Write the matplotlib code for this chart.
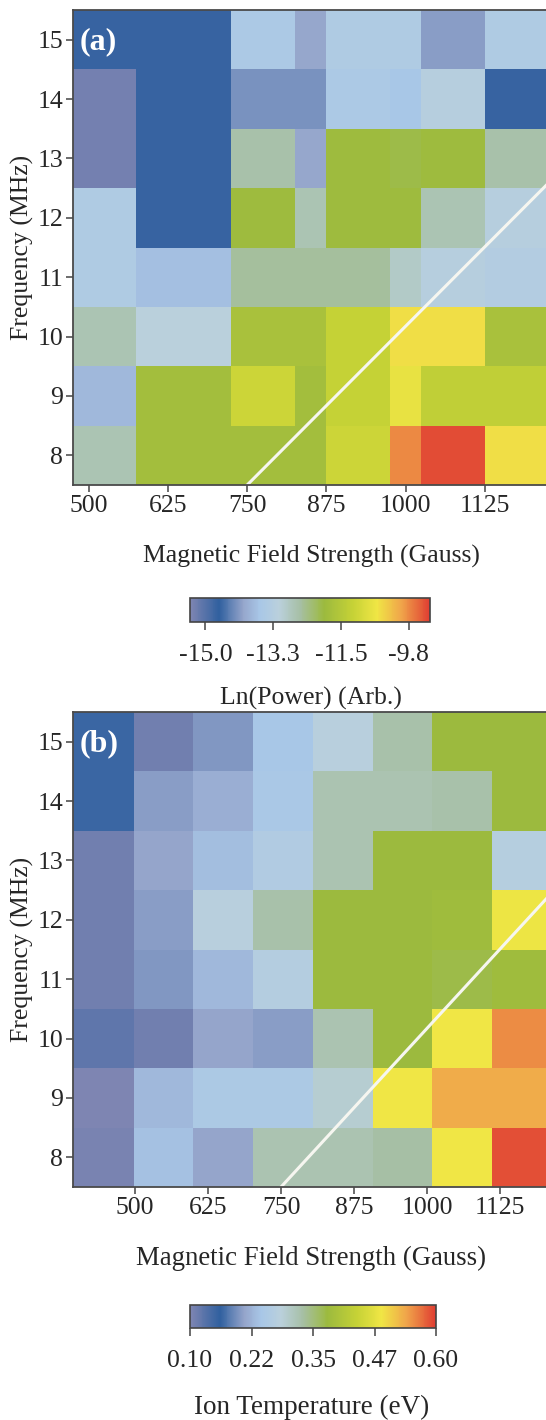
import numpy as np
import matplotlib
matplotlib.use("Agg")
import matplotlib.pyplot as plt
from matplotlib.colors import LinearSegmentedColormap

plt.rcParams['font.family'] = ['Liberation Serif', 'DejaVu Serif']

# --- data ---------------------------------------------------------------
freq = [15, 14, 13, 12, 11, 10, 9, 8]            # MHz, rows top -> bottom

# panel (a): ln(power), column edges in Gauss
field_edges_a = [475, 575, 725, 825, 875, 975, 1025, 1125, 1275]
power = [
    [-14.7, -14.7, -13.5, -14.0, -13.4, -13.4, -14.1, -13.4],
    [-15.3, -14.7, -14.2, -14.2, -13.5, -13.6, -13.2, -14.7],
    [-15.3, -14.7, -12.6, -14.0, -11.9, -12.0, -11.9, -12.6],
    [-13.4, -14.7, -11.9, -12.7, -11.9, -11.9, -12.7, -13.2],
    [-13.4, -13.7, -12.5, -12.5, -12.5, -12.9, -13.2, -13.3],
    [-12.7, -13.1, -11.7, -11.7, -11.2, -10.5, -10.5, -11.7],
    [-13.8, -11.8, -11.1, -11.8, -11.2, -10.7, -11.3, -11.3],
    [-12.7, -11.8, -11.8, -11.8, -11.1, -9.75, -9.3, -10.5],
]

# panel (b): ion temperature (eV)
field_edges_b = [394, 498, 600, 702, 805, 907, 1009, 1111, 1314]
temp = [
    [0.165, 0.11, 0.20, 0.245, 0.28, 0.325, 0.38, 0.38],
    [0.165, 0.205, 0.22, 0.25, 0.32, 0.32, 0.325, 0.38],
    [0.11, 0.21, 0.235, 0.265, 0.32, 0.38, 0.38, 0.275],
    [0.11, 0.205, 0.28, 0.325, 0.38, 0.38, 0.385, 0.485],
    [0.11, 0.20, 0.23, 0.27, 0.38, 0.38, 0.375, 0.385],
    [0.125, 0.11, 0.21, 0.205, 0.32, 0.38, 0.49, 0.555],
    [0.10, 0.23, 0.255, 0.255, 0.295, 0.49, 0.535, 0.535],
    [0.105, 0.24, 0.21, 0.32, 0.32, 0.33, 0.49, 0.59],
]

# white resonance line
line_field = [750, 1400]
line_freq = [7.5, 14.45]

xticks = [500, 625, 750, 875, 1000, 1125]
cb_ticks_a = [-15.0, -13.25, -11.5, -9.75]
cb_labels_a = ['-15.0', '-13.3', '-11.5', '-9.8']
cb_ticks_b = [0.10, 0.225, 0.35, 0.475, 0.60]
cb_labels_b = ['0.10', '0.22', '0.35', '0.47', '0.60']

# --- colormap -----------------------------------------------------------
cmap = LinearSegmentedColormap.from_list('pw', [
    (0.00, '#7e85b2'), (0.12, '#30609f'), (0.22, '#95a5cb'),
    (0.29, '#a8c7e7'), (0.37, '#bad0dc'), (0.46, '#a6bfa4'),
    (0.56, '#9cba3e'), (0.68, '#c6d236'), (0.78, '#f0e645'),
    (0.88, '#f0a64a'), (1.00, '#e03e32')])

W, H = 546, 1420
fig = plt.figure(figsize=(W / 100, H / 100), dpi=100)
TXT = '#262626'
LEFT = 73


def fx(px):
    return px / W


def fy(py):
    return 1 - py / H


freq = np.array(freq, dtype=float)
y_edges = np.append(freq + 0.5, freq[-1] - 0.5)


def panel(top, xedges, data, vmin, vmax, tag, ppg, xl_size, cbox, cticks, clabels):
    # axis runs on past the right edge of the figure, as in the cropped original
    width_px = (xedges[-1] - xedges[0]) * ppg
    ax = fig.add_axes([fx(LEFT), fy(top + 475), width_px / W, 475 / H])
    im = ax.pcolormesh(xedges, y_edges, np.array(data), cmap=cmap,
                       vmin=vmin, vmax=vmax, shading='flat')
    ax.plot(line_field, line_freq, color='#f6f6f0', lw=2.2)
    ax.set_xlim(xedges[0], xedges[-1])
    ax.set_ylim(7.5, 15.5)
    ax.set_xticks(xticks)
    ax.set_yticks(freq)
    ax.set_yticklabels([str(int(f)) for f in freq])
    ax.tick_params(labelsize=18.5, length=5, width=1.1, color='#444444',
                   labelcolor=TXT, pad=2)
    for s in ax.spines.values():
        s.set_color('#4a4a4a')
        s.set_linewidth(1.3)
    ax.set_ylabel('Frequency (MHz)', fontsize=18.5, color=TXT,
                  ha='center', va='center')
    ax.yaxis.set_label_coords((22.6 - LEFT) / width_px, 0.5)
    ax.text((80 - LEFT) / width_px, 0.934, tag, transform=ax.transAxes,
            color='white', fontsize=23, fontweight='bold', va='center')
    ax.set_xlabel('Magnetic Field Strength (Gauss)', fontsize=xl_size,
                  color=TXT, ha='center', va='center')
    ax.xaxis.set_label_coords((311 - LEFT) / width_px, -71 / 475)

    cax = fig.add_axes(cbox)
    cb = fig.colorbar(im, cax=cax, orientation='horizontal')
    cb.set_ticks(cticks)
    cb.set_ticklabels(clabels)
    cax.tick_params(labelsize=18.5, length=6, width=1.1, color='#444444',
                    labelcolor=TXT, pad=10)
    cb.outline.set_edgecolor('#444444')
    cb.outline.set_linewidth(1.2)
    return ax, cb


panel(10, field_edges_a, power, -15.4, -9.2, '(a)', 0.6334, 18.5,
      [fx(190), fy(622), 240 / W, 24 / H], cb_ticks_a, cb_labels_a)
fig.text(fx(311), fy(698), 'Ln(Power) (Arb.)', fontsize=18.5,
         color=TXT, ha='center', va='center')

panel(712, field_edges_b, temp, 0.10, 0.60, '(b)', 0.5843, 19.3,
      [fx(190), fy(1328), 246 / W, 23 / H], cb_ticks_b, cb_labels_b)
fig.text(fx(312), fy(1407), 'Ion Temperature (eV)', fontsize=19.5,
         color=TXT, ha='center', va='center')

plt.savefig('out.png', dpi=100)
